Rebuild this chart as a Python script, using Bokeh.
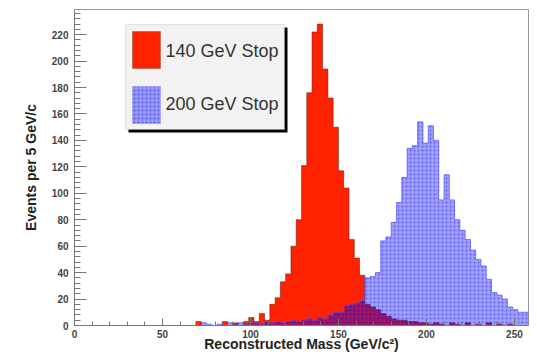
import numpy as np
from bokeh.plotting import figure
from bokeh.models import FixedTicker, BoxAnnotation, Label, Range1d
from bokeh.embed import file_html
from bokeh.resources import INLINE

# ---------------- data ----------------
BIN_WIDTH = 3  # GeV
X_MAX = 258
Y_MAX = 239

# 140 GeV stop (red), 86 bins of 3 GeV from 0 to 258
stop140 = [0]*23 + [
    3, 0, 0, 0, 0, 3, 0, 2, 0, 3,      # 69 - 99
    6, 3, 9, 4, 16, 21, 33, 39, 60, 80,  # 99 - 129
    121, 176, 222, 228, 194, 172, 150, 117, 104, 65,  # 129 - 159
    51, 38, 16, 14, 12, 9, 7, 5, 4, 4,  # 159 - 189
    3, 3, 2, 2, 1, 2, 1, 0, 2, 1,      # 189 - 219
    0, 2, 0, 1, 0, 2, 0, 1, 0, 1,      # 219 - 249
    0, 0, 0]                            # 249 - 258

# 200 GeV stop (blue)
stop200 = [0]*23 + [
    0, 2, 1, 0, 1, 0, 2, 1, 2, 1,      # 69 - 99
    2, 2, 1, 3, 2, 3, 2, 3, 4, 3,      # 99 - 129
    4, 5, 4, 6, 5, 8, 10, 10, 15, 16,  # 129 - 159
    17, 19, 36, 37, 40, 64, 67, 78, 93, 112,  # 159 - 189
    134, 136, 154, 138, 151, 140, 95, 114, 95, 80,  # 189 - 219
    72, 65, 57, 50, 45, 35, 25, 23, 20, 14,  # 219 - 249
    12, 10, 10]                          # 249 - 258

x_ticks = list(range(0, 251, 50))
x_minor = list(range(0, X_MAX + 1, 10))
y_ticks = list(range(0, 221, 20))
y_minor = list(range(0, Y_MAX + 1, 4))

labels = ["140 GeV Stop", "200 GeV Stop"]
x_title = "Reconstructed Mass (GeV/c\u00b2)"
y_title = "Events per 5 GeV/c"

# ---------------- styles ----------------
RED = "#ff2200"
BLUE = "#0000ff"
BLUE_ALPHA = 0.38
HATCH = dict(hatch_pattern="dot", hatch_color="#0000cc", hatch_alpha=0.4, hatch_scale=4)
FONT = "Liberation Sans"

edges = np.arange(0, X_MAX + BIN_WIDTH, BIN_WIDTH)
red = np.array(stop140, dtype=float)
blue = np.array(stop200, dtype=float)


def step_outline(e, v):
    xs = np.repeat(e, 2)[1:-1]
    ys = np.repeat(v, 2)
    return xs, ys


def step_polygon(e, v):
    xs, ys = step_outline(e, v)
    return np.concatenate([[e[0]], xs, [e[-1]]]), np.concatenate([[0], ys, [0]])


W, H = 529, 356
ML, MR, MT, MB = 74, 1, 9, 31
p = figure(width=W, height=H, x_range=Range1d(0, X_MAX), y_range=Range1d(0, Y_MAX),
           output_backend="svg", toolbar_location=None,
           min_border_left=ML, min_border_right=MR, min_border_top=MT, min_border_bottom=MB)
p.grid.visible = False
p.outline_line_color = "#999999"
p.background_fill_color = "white"
p.border_fill_color = "white"

# red histogram
rx, ry = step_polygon(edges, red)
p.patch(rx, ry, fill_color=RED, line_color=None)
ox, oy = step_outline(edges, red)
p.line(ox, oy, line_color="#5a1a10", line_width=1, line_alpha=0.5)

# blue hatched histogram on top
bx, by = step_polygon(edges, blue)
p.patch(bx, by, fill_color=BLUE, fill_alpha=BLUE_ALPHA, line_color=None, **HATCH)
ox, oy = step_outline(edges, blue)
p.line(ox, oy, line_color="#5050ff", line_width=1, line_alpha=0.7)

# axes
for ax in (p.xaxis, p.yaxis):
    ax.major_tick_out = 0
    ax.minor_tick_out = 0
    ax.axis_line_color = "#777777"
    ax.major_tick_line_color = "#777777"
    ax.minor_tick_line_color = "#777777"
    ax.major_label_text_font = FONT
    ax.major_label_text_font_size = "10px"
    ax.major_label_text_font_style = "bold"
    ax.major_label_text_color = "#444444"
    ax.axis_label_text_font = FONT
    ax.axis_label_text_font_size = "14px"
    ax.axis_label_text_font_style = "bold"
    ax.axis_label_text_color = "#222222"

p.xaxis.ticker = FixedTicker(ticks=x_ticks, minor_ticks=x_minor)
p.yaxis.ticker = FixedTicker(ticks=y_ticks, minor_ticks=y_minor)
p.xaxis.major_tick_in = 7
p.xaxis.minor_tick_in = 4
p.yaxis.major_tick_in = 12
p.yaxis.minor_tick_in = 6
p.xaxis.major_label_standoff = 4
p.yaxis.major_label_standoff = 6
p.xaxis.axis_label = x_title
p.xaxis.axis_label_standoff = -5
p.yaxis.axis_label = y_title
p.yaxis.axis_label_standoff = 10

# ---------------- pixel -> data helpers for the legend ----------------
FRAME_W = W - ML - MR
FRAME_H = H - MT - MB


def dx(px):
    return (px - ML) * X_MAX / FRAME_W


def dy(py):
    return (MT + FRAME_H - py) * Y_MAX / FRAME_H


p.add_layout(BoxAnnotation(left=dx(128), right=dx(287), top=dy(27), bottom=dy(132),
                           fill_color="black", fill_alpha=1.0, line_color=None))
p.add_layout(BoxAnnotation(left=dx(125), right=dx(284), top=dy(24), bottom=dy(129),
                           fill_color="#f2f2f2", fill_alpha=1.0,
                           line_color="#b0b0b0", line_width=1))
p.add_layout(BoxAnnotation(left=dx(132), right=dx(160), top=dy(31), bottom=dy(68),
                           fill_color=RED, fill_alpha=1.0, line_color="#6a2a20", line_width=1))
p.add_layout(BoxAnnotation(left=dx(132), right=dx(160), top=dy(86), bottom=dy(123),
                           fill_color=BLUE, fill_alpha=BLUE_ALPHA, line_color="#6666ff",
                           **HATCH))
for txt, cy in zip(labels, (50, 103)):
    p.add_layout(Label(x=dx(165), y=dy(cy), text=txt, text_baseline="middle",
                       text_font=FONT, text_font_size="18px", text_color="#333333"))

open("out.html", "w").write(file_html(p, INLINE))
